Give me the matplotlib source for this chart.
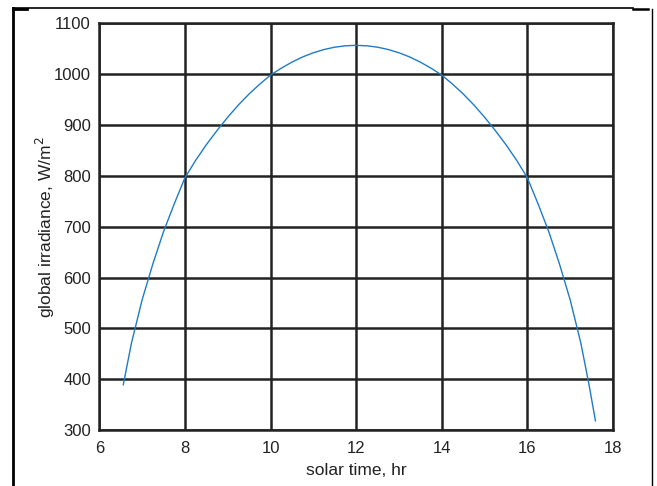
import matplotlib
matplotlib.use("Agg")
import matplotlib.pyplot as plt
from matplotlib.lines import Line2D

plt.rcParams['font.family'] = ['Liberation Sans', 'DejaVu Sans']

solar_time = [6.56, 6.75, 7.0, 7.25, 7.5, 7.75, 8.0, 8.25, 8.5, 8.75, 9.0, 9.25, 9.5, 9.75,
              10.0, 10.25, 10.5, 10.75, 11.0, 11.25, 11.5, 11.75, 12.0,
              12.25, 12.5, 12.75, 13.0, 13.25, 13.5, 13.75, 14.0, 14.25, 14.5, 14.75,
              15.0, 15.25, 15.5, 15.75, 16.0, 16.25, 16.5, 16.75, 17.0, 17.25, 17.44, 17.59]
irradiance = [389, 470.6, 556, 626.6, 690.3, 744.9, 796.3, 830.6, 861.4, 889.4, 915.6, 939.7, 961.4, 980.8,
              998.5, 1012, 1024, 1034.2, 1042.4, 1048.8, 1053.4, 1056.1, 1057,
              1056.1, 1053.4, 1048.8, 1042.4, 1034.2, 1024, 1012, 998.5, 980.8, 961.4, 939.7,
              915.6, 889.4, 861.4, 830.6, 796.3, 744.9, 690.3, 626.6, 556, 470.6, 389, 318]

xticks = [6, 8, 10, 12, 14, 16, 18]
yticks = [300, 400, 500, 600, 700, 800, 900, 1000, 1100]

W, H = 657, 486
fig = plt.figure(figsize=(W / 100, H / 100), dpi=100)
ax = fig.add_axes([99.3 / W, (H - 430) / H, (613 - 99.3) / W, (430 - 23.5) / H])

ax.plot(solar_time, irradiance, color='#1f7bc6', linewidth=1.0, zorder=3)
ax.set_xlim(6, 18)
ax.set_ylim(300, 1100)
ax.set_xticks(xticks)
ax.set_yticks(yticks)
ax.grid(True, color='#222222', linewidth=1.8)
for s in ax.spines.values():
    s.set_color('#222222')
    s.set_linewidth(1.8)
ax.tick_params(length=0, labelsize=12, colors='#222222')
ax.tick_params(axis='x', pad=8)
ax.tick_params(axis='y', pad=6)
ax.set_xlabel('solar time, hr', fontsize=12.5, color='#222222', labelpad=5)
ax.set_ylabel('global irradiance, W/m$^2$', fontsize=12.5, color='#222222', labelpad=-2)

def px_line(x0, y0, x1, y1, lw):
    fig.add_artist(Line2D([x0 / W, x1 / W], [1 - y0 / H, 1 - y1 / H],
                          transform=fig.transFigure, color='black', linewidth=lw))

px_line(13, 8, 633, 8, 1.2)
px_line(13, 9, 27, 9, 2.0)
px_line(13, 8, 13, 486, 2.0)
px_line(633, 9.5, 648, 9.5, 1.8)
px_line(652, 9, 652, 486, 1.0)

fig.savefig('out.png', dpi=100)
